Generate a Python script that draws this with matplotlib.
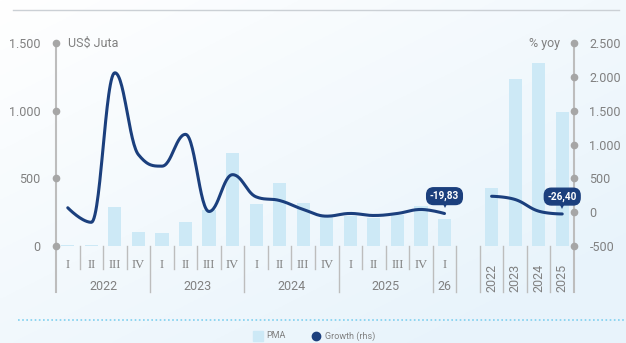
import numpy as np
import matplotlib
matplotlib.use("Agg")
import matplotlib.pyplot as plt
from matplotlib.transforms import ScaledTranslation

# quarterly 2022 I .. 2026 I, then annual 2022..2025
quarters = ["I", "II", "III", "IV"] * 4 + ["I"]
quarter_years = ["2022", "2023", "2024", "2025", "26"]
annual = ["2022", "2023", "2024", "2025"]

pma_q = [5, 8, 290, 103, 94, 177, 266, 685, 310, 468, 316, 229, 222, 205, 229, 296, 197]
pma_y = [429, 1236, 1350, 992]

growth_q = [65, -150, 2060, 850, 680, 1150, 10, 554, 226, 172, 40, -59, -19, -49, -19, 40, -19.83]
growth_y = [235, 187, 15, -26.40]

W, H = 626, 343
NAVY = "#1b3f7d"
BAR = "#cde9f6"
AXC = "#bdbdbd"
TXT = "#808080"
FONT = "Roboto"


def spline(xs, ys, n=30, smoothing=1.5):
    # bezier spline with horizontal tangents at local extremes
    xs = np.asarray(xs, float)
    ys = np.asarray(ys, float)
    m = len(xs)
    lc = [(xs[i], ys[i]) for i in range(m)]
    rc = [(xs[i], ys[i]) for i in range(m)]
    d = smoothing + 1
    for i in range(1, m - 1):
        x, y = xs[i], ys[i]
        px_, py_ = xs[i - 1], ys[i - 1]
        nx, ny = xs[i + 1], ys[i + 1]
        lx = (smoothing * x + px_) / d
        ly = (smoothing * y + py_) / d
        rx = (smoothing * x + nx) / d
        ry = (smoothing * y + ny) / d
        corr = (ry - ly) * (rx - x) / (rx - lx) + y - ry
        ly += corr
        ry += corr
        if ly > py_ and ly > y:
            ly = max(py_, y)
            ry = 2 * y - ly
        elif ly < py_ and ly < y:
            ly = min(py_, y)
            ry = 2 * y - ly
        if ry > ny and ry > y:
            ry = max(ny, y)
            ly = 2 * y - ry
        elif ry < ny and ry < y:
            ry = min(ny, y)
            ly = 2 * y - ry
        lc[i] = (lx, ly)
        rc[i] = (rx, ry)
    t = np.linspace(0, 1, n)[:, None]
    pts = []
    for i in range(m - 1):
        p0 = np.array([xs[i], ys[i]])
        p1 = np.array(rc[i])
        p2 = np.array(lc[i + 1])
        p3 = np.array([xs[i + 1], ys[i + 1]])
        seg = ((1 - t) ** 3 * p0 + 3 * (1 - t) ** 2 * t * p1
               + 3 * (1 - t) * t ** 2 * p2 + t ** 3 * p3)
        pts.append(seg)
    pts = np.vstack(pts)
    return pts[:, 0], pts[:, 1]


fig = plt.figure(figsize=(W / 100, H / 100), dpi=100)

# soft background gradient
bg = fig.add_axes([0, 0, 1, 1], zorder=-10)
gx, gy = np.meshgrid(np.linspace(0, 1, 200), np.linspace(0, 1, 200))
g = np.clip(0.55 * gx + 0.6 * gy, 0, 1)
c0 = np.array([1.0, 1.0, 1.0])
c1 = np.array([0.91, 0.955, 0.985])
img = c0 + (c1 - c0) * g[..., None]
bg.imshow(img, extent=[0, 1, 0, 1], aspect="auto", origin="upper")
bg.set_axis_off()


def px(x, y):
    return x / W, 1 - y / H


ax = fig.add_axes([56 / W, 1 - 246 / H, 518 / W, 203 / H])
ax.patch.set_alpha(0)
ax2 = ax.twinx()

nq = len(pma_q)
xq = np.arange(nq)
xa = np.arange(nq + 1, nq + 1 + len(pma_y))

ax.bar(xq, pma_q, width=0.56, color=BAR, zorder=1)
ax.bar(xa, pma_y, width=0.56, color=BAR, zorder=1)
ax.set_xlim(-0.5, xa[-1] + 0.5)
ax.set_ylim(0, 1500)
ax2.set_ylim(-500, 2500)

lx, ly = spline(xq, growth_q)
ax2.plot(lx, ly, color=NAVY, lw=2.2, solid_capstyle="round", zorder=3)
lx, ly = spline(xa, growth_y)
ax2.plot(lx, ly, color=NAVY, lw=2.2, solid_capstyle="round", zorder=3)

for a in (ax, ax2):
    for s in a.spines.values():
        s.set_visible(False)
    a.set_xticks([])

ax.set_yticks([0, 500, 1000, 1500])
ax.set_yticklabels(["0", "500", "1.000", "1.500"])
ax2.set_yticks([-500, 0, 500, 1000, 1500, 2000, 2500])
ax2.set_yticklabels(["-500", "0", "500", "1.000", "1.500", "2.000", "2.500"])
ax.tick_params(axis="y", length=0, pad=11, labelsize=9, labelcolor=TXT)
ax2.tick_params(axis="y", length=0, pad=11, labelsize=9, labelcolor=TXT)
for lab in ax.get_yticklabels() + ax2.get_yticklabels():
    lab.set_fontfamily(FONT)

# axis lines with dots at the ticks
xt = ax.get_xaxis_transform()
x0, x1 = -0.5, xa[-1] + 0.5
ax.plot([x0, x0], [-0.227, 1.0], transform=xt, color=AXC, lw=1.5, clip_on=False, zorder=0)
ax.plot([x1, x1], [-0.227, 1.0], transform=xt, color=AXC, lw=1.5, clip_on=False, zorder=0)
ax.plot([x0] * 4, [0, 500, 1000, 1500], "o", color="#a6a6a6", ms=4.5, clip_on=False, zorder=4)
ax2.plot([x1] * 7, [-500, 0, 500, 1000, 1500, 2000, 2500], "o", color="#a6a6a6", ms=4.5,
         clip_on=False, zorder=4)

# category separators below the plot
long_seps = [3.5, 7.5, 11.5, 15.5, 16.5, 17.5, 18.5, 19.5, 20.5]
for i in range(nq):
    b = i + 0.5
    if b in long_seps or b > nq:
        continue
    ax.plot([b, b], [0, -0.113], transform=xt, color=AXC, lw=1, clip_on=False)
for b in long_seps:
    ax.plot([b, b], [0, -0.227], transform=xt, color=AXC, lw=1, clip_on=False)

for i, q in enumerate(quarters):
    ax.text(i, -0.094, q, transform=xt, ha="center", va="center", fontsize=9,
            color=TXT, family="Liberation Serif")
for k, yr in enumerate(quarter_years):
    xc = 1.5 + 4 * k if k < 4 else 16
    ax.text(xc, -0.20, yr, transform=xt, ha="center", va="center", fontsize=9,
            color=TXT, family=FONT)
for x, yr in zip(xa, annual):
    ax.text(x, -0.155, yr, transform=xt, ha="center", va="center", fontsize=9,
            color=TXT, family=FONT, rotation=90)

# value callouts
for x, v in ((xq[-1], growth_q[-1]), (xa[-1], growth_y[-1])):
    ax2.annotate(f"{v:.2f}".replace(".", ","), (x, v), xytext=(0, 12.5),
                 textcoords="offset points", ha="center", va="center", fontsize=7.2,
                 fontweight="bold", color="white", family=FONT, zorder=6,
                 bbox=dict(boxstyle="round,pad=0.32,rounding_size=0.7", fc=NAVY, ec=NAVY))
    ptr, = ax2.plot(x, v, marker="v", ms=5, color=NAVY, markeredgewidth=0,
                    linestyle="none", zorder=6)
    ptr.set_transform(ax2.transData + ScaledTranslation(0, 6 / 72, fig.dpi_scale_trans))

fig.text(*px(68, 43), "US$ Juta", ha="left", va="center", fontsize=9, color=TXT, family=FONT)
fig.text(*px(560, 43), "% yoy", ha="right", va="center", fontsize=9, color=TXT, family=FONT)

# frame lines and legend
fig.add_artist(plt.Line2D([13 / W, 619 / W], [1 - 9.5 / H] * 2, color="#cbd0d5", lw=1.0))
fig.add_artist(plt.Line2D([18 / W, 1], [1 - 320 / H] * 2, color="#7fd0ef", lw=1.2,
                          linestyle=(0, (1, 1.5))))
fig.add_artist(plt.Line2D([258 / W], [1 - 336 / H], marker="s", ms=7, color=BAR, lw=0))
fig.text(*px(266, 336), "PMA", ha="left", va="center", fontsize=6.5, color=TXT, family=FONT)
fig.add_artist(plt.Line2D([316 / W], [1 - 336 / H], marker="o", ms=6, color=NAVY, lw=0))
fig.text(*px(325, 336), "Growth (rhs)", ha="left", va="center", fontsize=6.5, color=TXT,
         family=FONT)

fig.savefig("out.png", dpi=100)
